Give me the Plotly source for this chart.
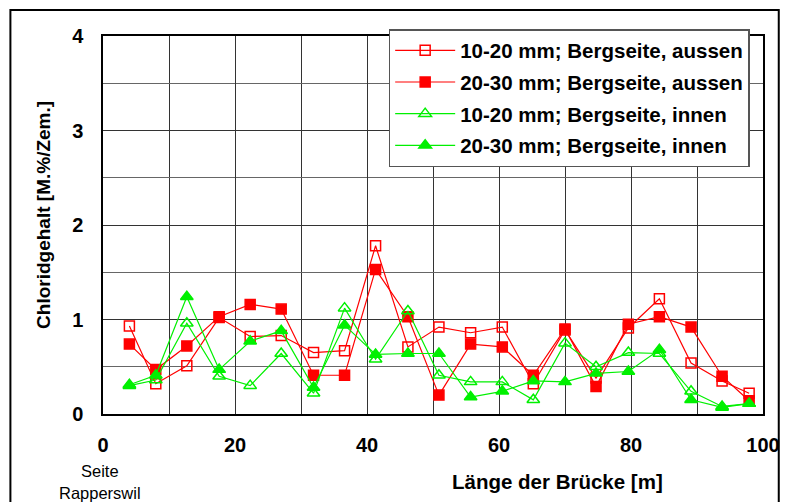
import plotly.graph_objects as go

x = [4.0, 8.0, 12.7, 17.6, 22.3, 27.0, 31.9, 36.6, 41.3, 46.2, 50.9,
     55.7, 60.5, 65.2, 70.0, 74.7, 79.6, 84.3, 89.1, 93.8, 97.9]

aussen_10_20 = [0.93, 0.32, 0.51, 1.02, 0.82, 0.83, 0.65, 0.67, 1.78, 0.71, 0.92,
                0.86, 0.92, 0.32, 0.89, 0.38, 0.91, 1.22, 0.54, 0.35, 0.22]
aussen_20_30 = [0.74, 0.47, 0.72, 1.03, 1.16, 1.11, 0.41, 0.41, 1.53, 1.03, 0.20,
                0.74, 0.71, 0.41, 0.90, 0.29, 0.95, 1.03, 0.92, 0.40, 0.14]
innen_10_20 = [0.30, 0.36, 0.96, 0.40, 0.30, 0.64, 0.22, 1.12, 0.58, 1.09, 0.41,
               0.34, 0.34, 0.15, 0.75, 0.50, 0.65, 0.64, 0.24, 0.08, 0.11]
innen_20_30 = [0.31, 0.41, 1.24, 0.47, 0.77, 0.88, 0.28, 0.94, 0.63, 0.64, 0.64,
               0.18, 0.24, 0.35, 0.34, 0.43, 0.45, 0.68, 0.15, 0.07, 0.11]

names = ["10-20 mm; Bergseite, aussen", "20-30 mm; Bergseite, aussen",
         "10-20 mm; Bergseite, innen", "20-30 mm; Bergseite, innen"]

RED = "#ff0000"
GREEN = "#00f000"

series = [
    (aussen_10_20, RED, "square-open", 10),
    (aussen_20_30, RED, "square", 10),
    (innen_10_20, GREEN, "triangle-up-open", 11),
    (innen_20_30, GREEN, "triangle-up", 11),
]

fig = go.Figure()
for i, (ys, col, sym, sz) in enumerate(series):
    fig.add_trace(go.Scatter(
        x=x, y=ys, name=names[i], mode="lines+markers", legendgroup=f"g{i}",
        line=dict(color=col, width=1.2),
        marker=dict(symbol=sym, size=sz, color=col, line=dict(color=col, width=1.5)),
    ))

font_family = "Liberation Sans, Arial, sans-serif"

# page body has an 8px margin: figure is offset by (8, 8) in the window
OFF = 8
W, H = 784, 494
L, T = 103 - OFF, 36 - OFF
PW, PH = 670, 378

def px(xp):
    return (xp - 103) / PW

def py(yp):
    return (414 - yp) / PH

fig.update_layout(
    width=W, height=H,
    margin=dict(l=L, r=W - L - PW, t=T, b=H - T - PH, pad=0),
    paper_bgcolor="white", plot_bgcolor="white",
    font=dict(family=font_family, color="black"),
    showlegend=True,
    legend=dict(
        x=px(393), y=py(29), xanchor="left", yanchor="top",
        bgcolor="white", bordercolor="#555555", borderwidth=1.5,
        font=dict(size=20.5, family=font_family, color="black", weight="bold"),
        itemwidth=60, tracegroupgap=2,
    ),
    xaxis=dict(
        range=[0, 100], dtick=20, tick0=0,
        showgrid=True, gridcolor="#333333", gridwidth=1,
        minor=dict(dtick=10, showgrid=True, gridcolor="#333333", gridwidth=1),
        showline=True, linecolor="black", linewidth=1.5, mirror=True,
        ticks="", tickfont=dict(size=20, weight="bold"),
        ticklabelstandoff=12, zeroline=False,
    ),
    yaxis=dict(
        range=[0, 4], dtick=1, tick0=0,
        showgrid=True, gridcolor="#333333", gridwidth=1,
        minor=dict(dtick=0.5, showgrid=True, gridcolor="#666666", gridwidth=1),
        showline=True, linecolor="black", linewidth=1.5, mirror=True,
        ticks="", tickfont=dict(size=20, weight="bold"),
        ticklabelstandoff=14, zeroline=False,
    ),
    shapes=[dict(type="rect", xref="paper", yref="paper",
                 x0=px(9), x1=px(789), y0=py(520), y1=py(10),
                 line=dict(color="black", width=2), fillcolor="rgba(0,0,0,0)", layer="below")],
    annotations=[
        dict(text="Chloridgehalt [M.%/Zem.]", xref="paper", yref="paper",
             x=px(43), y=py(215), xanchor="center", yanchor="middle", textangle=-90,
             showarrow=False, font=dict(size=19, weight="bold")),
        dict(text="Länge der Brücke [m]", xref="paper", yref="paper",
             x=px(564), y=py(481), xanchor="center", yanchor="middle",
             showarrow=False, font=dict(size=20.5, weight="bold")),
        dict(text="Seite", xref="paper", yref="paper",
             x=px(100), y=py(471), xanchor="center", yanchor="middle",
             showarrow=False, font=dict(size=16.5)),
        dict(text="Rapperswil", xref="paper", yref="paper",
             x=px(100), y=py(493), xanchor="center", yanchor="middle",
             showarrow=False, font=dict(size=16.5)),
    ],
)

fig.write_html("out.html")
